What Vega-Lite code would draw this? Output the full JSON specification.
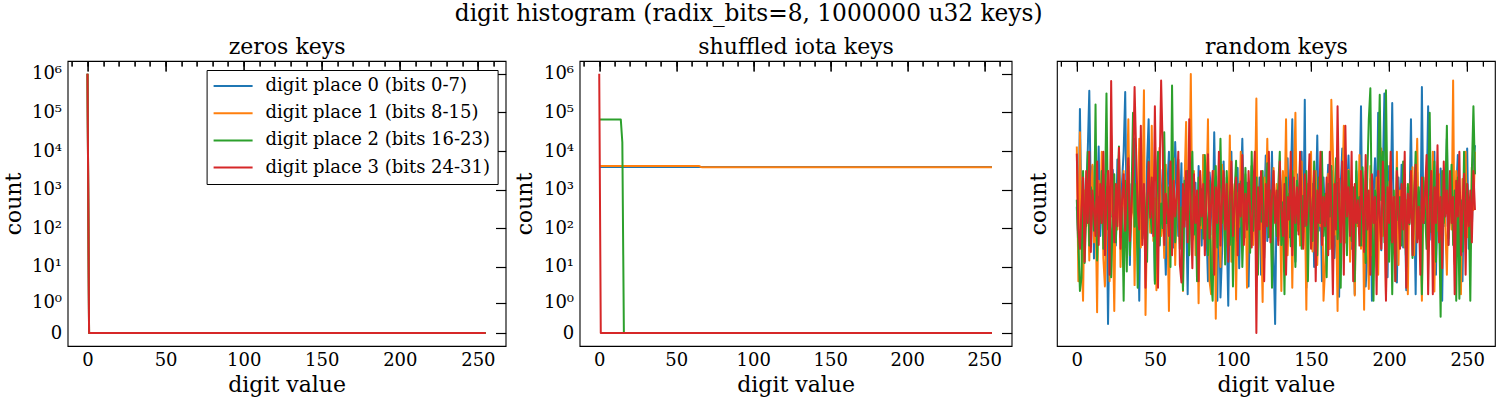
{
  "$schema": "https://vega.github.io/schema/vega-lite/v6.json",
  "padding": {"left": 1.6, "top": 1, "right": 0, "bottom": 0},
  "title": {"text": "digit histogram (radix_bits=8, 1000000 u32 keys)", "fontSize": 23.3, "offset": 8.2, "anchor": "middle", "frame": "bounds"},
  "datasets": {
    "zeros": [
      {"digit": 0, "place": "digit place 0 (bits 0-7)", "count": 1000000},
      {"digit": 1, "place": "digit place 0 (bits 0-7)", "count": 0},
      {"digit": 255, "place": "digit place 0 (bits 0-7)", "count": 0},
      {"digit": 0, "place": "digit place 1 (bits 8-15)", "count": 1000000},
      {"digit": 1, "place": "digit place 1 (bits 8-15)", "count": 0},
      {"digit": 255, "place": "digit place 1 (bits 8-15)", "count": 0},
      {"digit": 0, "place": "digit place 2 (bits 16-23)", "count": 1000000},
      {"digit": 1, "place": "digit place 2 (bits 16-23)", "count": 0},
      {"digit": 255, "place": "digit place 2 (bits 16-23)", "count": 0},
      {"digit": 0, "place": "digit place 3 (bits 24-31)", "count": 1000000},
      {"digit": 1, "place": "digit place 3 (bits 24-31)", "count": 0},
      {"digit": 255, "place": "digit place 3 (bits 24-31)", "count": 0}
    ],
    "iota": [
      {"digit": 0, "place": "digit place 0 (bits 0-7)", "count": 3907},
      {"digit": 63, "place": "digit place 0 (bits 0-7)", "count": 3907},
      {"digit": 64, "place": "digit place 0 (bits 0-7)", "count": 3906},
      {"digit": 255, "place": "digit place 0 (bits 0-7)", "count": 3906},
      {"digit": 0, "place": "digit place 1 (bits 8-15)", "count": 4096},
      {"digit": 65, "place": "digit place 1 (bits 8-15)", "count": 4096},
      {"digit": 66, "place": "digit place 1 (bits 8-15)", "count": 3904},
      {"digit": 67, "place": "digit place 1 (bits 8-15)", "count": 3840},
      {"digit": 255, "place": "digit place 1 (bits 8-15)", "count": 3840},
      {"digit": 0, "place": "digit place 2 (bits 16-23)", "count": 65536},
      {"digit": 14, "place": "digit place 2 (bits 16-23)", "count": 65536},
      {"digit": 15, "place": "digit place 2 (bits 16-23)", "count": 16960},
      {"digit": 16, "place": "digit place 2 (bits 16-23)", "count": 0},
      {"digit": 255, "place": "digit place 2 (bits 16-23)", "count": 0},
      {"digit": 0, "place": "digit place 3 (bits 24-31)", "count": 1000000},
      {"digit": 1, "place": "digit place 3 (bits 24-31)", "count": 0},
      {"digit": 255, "place": "digit place 3 (bits 24-31)", "count": 0}
    ],
    "random": [
      {"d":0,"p0":3905,"p1":3998,"p2":3916,"p3":3987},
      {"d":1,"p0":3840,"p1":3790,"p2":3850,"p3":3870},
      {"d":2,"p0":4056,"p1":4020,"p2":3775,"p3":3840},
      {"d":3,"p0":3880,"p1":3840,"p2":3795,"p3":3905},
      {"d":4,"p0":3950,"p1":3760,"p2":3960,"p3":3950},
      {"d":5,"p0":3870,"p1":3930,"p2":3818,"p3":3820},
      {"d":6,"p0":3930,"p1":3875,"p2":3890,"p3":3960},
      {"d":7,"p0":3990,"p1":3960,"p2":3990,"p3":3880},
      {"d":8,"p0":4084,"p1":3822,"p2":3845,"p3":3990},
      {"d":9,"p0":3912,"p1":3905,"p2":3935,"p3":3835},
      {"d":10,"p0":3968,"p1":3970,"p2":3905,"p3":3930},
      {"d":11,"p0":3825,"p1":3850,"p2":3868,"p3":3900},
      {"d":12,"p0":3940,"p1":3912,"p2":4063,"p3":3860},
      {"d":13,"p0":3885,"p1":3742,"p2":3822,"p3":3975},
      {"d":14,"p0":3998,"p1":3945,"p2":3920,"p3":3846},
      {"d":15,"p0":3860,"p1":3886,"p2":3880,"p3":3940},
      {"d":16,"p0":3920,"p1":3990,"p2":3960,"p3":3880},
      {"d":17,"p0":3955,"p1":3826,"p2":3840,"p3":3990},
      {"d":18,"p0":3876,"p1":3782,"p2":3912,"p3":3830},
      {"d":19,"p0":3935,"p1":3868,"p2":4080,"p3":3920},
      {"d":20,"p0":3724,"p1":3960,"p2":3870,"p3":3960},
      {"d":21,"p0":3890,"p1":3790,"p2":3935,"p3":3800},
      {"d":22,"p0":3890,"p1":4015,"p2":3796,"p3":4099},
      {"d":23,"p0":3962,"p1":3880,"p2":3890,"p3":3900},
      {"d":24,"p0":3918,"p1":3744,"p2":3955,"p3":3850},
      {"d":25,"p0":3845,"p1":3938,"p2":3850,"p3":3940},
      {"d":26,"p0":3978,"p1":3870,"p2":3920,"p3":3875},
      {"d":27,"p0":3902,"p1":3985,"p2":3998,"p3":3996},
      {"d":28,"p0":3866,"p1":3812,"p2":3858,"p3":3840},
      {"d":29,"p0":3944,"p1":3900,"p2":3904,"p3":3915},
      {"d":30,"p0":3990,"p1":3960,"p2":3760,"p3":3955},
      {"d":31,"p0":4082,"p1":3844,"p2":3945,"p3":3868},
      {"d":32,"p0":3870,"p1":3920,"p2":3805,"p3":3930},
      {"d":33,"p0":3985,"p1":4040,"p2":3968,"p3":3980},
      {"d":34,"p0":3815,"p1":3860,"p2":3830,"p3":3852},
      {"d":35,"p0":3940,"p1":3895,"p2":3915,"p3":3905},
      {"d":36,"p0":3896,"p1":3968,"p2":4050,"p3":3960},
      {"d":37,"p0":4010,"p1":3784,"p2":3874,"p3":4090},
      {"d":38,"p0":3852,"p1":3930,"p2":3940,"p3":3990},
      {"d":39,"p0":3925,"p1":3876,"p2":3780,"p3":3900},
      {"d":40,"p0":3760,"p1":4010,"p2":3905,"p3":3870},
      {"d":41,"p0":3958,"p1":3842,"p2":3962,"p3":4030},
      {"d":42,"p0":3880,"p1":3915,"p2":3856,"p3":3846},
      {"d":43,"p0":3910,"p1":4085,"p2":3930,"p3":3940},
      {"d":44,"p0":3832,"p1":3738,"p2":3890,"p3":3780},
      {"d":45,"p0":3972,"p1":3890,"p2":3820,"p3":3915},
      {"d":46,"p0":4040,"p1":3950,"p2":3975,"p3":3974},
      {"d":47,"p0":3898,"p1":3865,"p2":3898,"p3":3888},
      {"d":48,"p0":3864,"p1":4030,"p2":3866,"p3":3950},
      {"d":49,"p0":3945,"p1":3852,"p2":3944,"p3":3860},
      {"d":50,"p0":3790,"p1":3918,"p2":3786,"p3":4060},
      {"d":51,"p0":3920,"p1":3776,"p2":3920,"p3":3905},
      {"d":52,"p0":3985,"p1":3940,"p2":3990,"p3":3780},
      {"d":53,"p0":3845,"p1":3996,"p2":3846,"p3":3950},
      {"d":54,"p0":3906,"p1":3860,"p2":3910,"p3":4100},
      {"d":55,"p0":3962,"p1":3905,"p2":3872,"p3":3996},
      {"d":56,"p0":3878,"p1":3826,"p2":4020,"p3":3846},
      {"d":57,"p0":3800,"p1":3970,"p2":3880,"p3":3925},
      {"d":58,"p0":3934,"p1":3888,"p2":3880,"p3":3900},
      {"d":59,"p0":3990,"p1":3744,"p2":3935,"p3":3860},
      {"d":60,"p0":3868,"p1":3935,"p2":3812,"p3":3975},
      {"d":61,"p0":3915,"p1":3875,"p2":4092,"p3":3830},
      {"d":62,"p0":3842,"p1":3980,"p2":3895,"p3":3945},
      {"d":63,"p0":4005,"p1":3815,"p2":3850,"p3":3890},
      {"d":64,"p0":3935,"p1":3910,"p2":3925,"p3":3920},
      {"d":65,"p0":3860,"p1":3962,"p2":3978,"p3":3990},
      {"d":66,"p0":3890,"p1":3848,"p2":3840,"p3":3816},
      {"d":67,"p0":3972,"p1":3896,"p2":3904,"p3":3788},
      {"d":68,"p0":3816,"p1":3775,"p2":3776,"p3":3940},
      {"d":69,"p0":3950,"p1":3940,"p2":3945,"p3":3874},
      {"d":70,"p0":3905,"p1":4036,"p2":3885,"p3":3960},
      {"d":71,"p0":3770,"p1":3870,"p2":3960,"p3":3850},
      {"d":72,"p0":3928,"p1":3920,"p2":3830,"p3":4040},
      {"d":73,"p0":3990,"p1":4110,"p2":3915,"p3":3900},
      {"d":74,"p0":3854,"p1":3880,"p2":3990,"p3":3810},
      {"d":75,"p0":3880,"p1":3960,"p2":3862,"p3":3955},
      {"d":76,"p0":3942,"p1":3830,"p2":3920,"p3":3880},
      {"d":77,"p0":3826,"p1":3915,"p2":3790,"p3":3930},
      {"d":78,"p0":3968,"p1":3756,"p2":3950,"p3":3790},
      {"d":79,"p0":3900,"p1":3938,"p2":3876,"p3":3960},
      {"d":80,"p0":3845,"p1":3872,"p2":3932,"p3":3890},
      {"d":81,"p0":3985,"p1":3985,"p2":3856,"p3":3940},
      {"d":82,"p0":3912,"p1":3846,"p2":3985,"p3":3830},
      {"d":83,"p0":3874,"p1":3908,"p2":3900,"p3":3920},
      {"d":84,"p0":3790,"p1":4040,"p2":3830,"p3":3986},
      {"d":85,"p0":3958,"p1":3790,"p2":3945,"p3":3856},
      {"d":86,"p0":3930,"p1":3770,"p2":3795,"p3":3910},
      {"d":87,"p0":3862,"p1":3866,"p2":3760,"p3":3960},
      {"d":88,"p0":4020,"p1":3960,"p2":3920,"p3":3800},
      {"d":89,"p0":3886,"p1":3732,"p2":3968,"p3":3935},
      {"d":90,"p0":3760,"p1":3930,"p2":3842,"p3":3880},
      {"d":91,"p0":3946,"p1":3884,"p2":3905,"p3":3990},
      {"d":92,"p0":3765,"p1":3812,"p2":4010,"p3":3845},
      {"d":93,"p0":3834,"p1":3970,"p2":3880,"p3":3915},
      {"d":94,"p0":3975,"p1":3900,"p2":3938,"p3":3960},
      {"d":95,"p0":3898,"p1":3845,"p2":3816,"p3":3870},
      {"d":96,"p0":3870,"p1":3950,"p2":3960,"p3":3940},
      {"d":97,"p0":3752,"p1":3880,"p2":3890,"p3":3820},
      {"d":98,"p0":3940,"p1":4015,"p2":3846,"p3":3920},
      {"d":99,"p0":3990,"p1":3820,"p2":3930,"p3":3975},
      {"d":100,"p0":3846,"p1":3905,"p2":3782,"p3":3860},
      {"d":101,"p0":3915,"p1":3940,"p2":3925,"p3":3905},
      {"d":102,"p0":3880,"p1":3762,"p2":3976,"p3":3950},
      {"d":103,"p0":3965,"p1":3926,"p2":3852,"p3":3830},
      {"d":104,"p0":3810,"p1":3874,"p2":3905,"p3":3940},
      {"d":105,"p0":3928,"p1":3990,"p2":3944,"p3":3890},
      {"d":106,"p0":4010,"p1":3850,"p2":3812,"p3":3985},
      {"d":107,"p0":3890,"p1":3915,"p2":3890,"p3":3846},
      {"d":108,"p0":3858,"p1":3955,"p2":3965,"p3":3925},
      {"d":109,"p0":3942,"p1":3780,"p2":3870,"p3":3870},
      {"d":110,"p0":3782,"p1":3930,"p2":3920,"p3":3960},
      {"d":111,"p0":3906,"p1":3870,"p2":3834,"p3":3900},
      {"d":112,"p0":3968,"p1":3968,"p2":3990,"p3":3842},
      {"d":113,"p0":3874,"p1":3846,"p2":3868,"p3":3930},
      {"d":114,"p0":3920,"p1":3910,"p2":3915,"p3":3990},
      {"d":115,"p0":3838,"p1":4072,"p2":3950,"p3":3710},
      {"d":116,"p0":3885,"p1":3835,"p2":3800,"p3":3935},
      {"d":117,"p0":3950,"p1":3930,"p2":3935,"p3":3870},
      {"d":118,"p0":3800,"p1":3880,"p2":3882,"p3":3960},
      {"d":119,"p0":3930,"p1":3758,"p2":3960,"p3":3896},
      {"d":120,"p0":3896,"p1":3950,"p2":3826,"p3":3790},
      {"d":121,"p0":3984,"p1":3890,"p2":3910,"p3":3940},
      {"d":122,"p0":3852,"p1":4010,"p2":3972,"p3":3875},
      {"d":123,"p0":3915,"p1":3860,"p2":3858,"p3":3990},
      {"d":124,"p0":3876,"p1":3925,"p2":3930,"p3":3850},
      {"d":125,"p0":3990,"p1":3810,"p2":3780,"p3":3920},
      {"d":126,"p0":3830,"p1":3965,"p2":3944,"p3":3960},
      {"d":127,"p0":3724,"p1":3885,"p2":3890,"p3":3880},
      {"d":128,"p0":3925,"p1":3940,"p2":3860,"p3":3930},
      {"d":129,"p0":3890,"p1":3852,"p2":3935,"p3":3846},
      {"d":130,"p0":3962,"p1":3920,"p2":3990,"p3":3975},
      {"d":131,"p0":3870,"p1":3775,"p2":3846,"p3":3900},
      {"d":132,"p0":3946,"p1":3960,"p2":3912,"p3":3860},
      {"d":133,"p0":3805,"p1":3895,"p2":3770,"p3":3940},
      {"d":134,"p0":3912,"p1":4040,"p2":3950,"p3":3800},
      {"d":135,"p0":3980,"p1":3830,"p2":3886,"p3":3920},
      {"d":136,"p0":3858,"p1":3915,"p2":3925,"p3":3885},
      {"d":137,"p0":3935,"p1":3962,"p2":3844,"p3":3990},
      {"d":138,"p0":4040,"p1":3780,"p2":3960,"p3":3830},
      {"d":139,"p0":3882,"p1":3935,"p2":3900,"p3":3950},
      {"d":140,"p0":3820,"p1":4050,"p2":3812,"p3":3880},
      {"d":141,"p0":3955,"p1":3868,"p2":3945,"p3":3935},
      {"d":142,"p0":3900,"p1":3905,"p2":3878,"p3":3862},
      {"d":143,"p0":3872,"p1":3845,"p2":3985,"p3":3990},
      {"d":144,"p0":3990,"p1":3975,"p2":3840,"p3":3900},
      {"d":145,"p0":3845,"p1":3866,"p2":3922,"p3":3840},
      {"d":146,"p0":4070,"p1":3920,"p2":3875,"p3":3955},
      {"d":147,"p0":3780,"p1":3746,"p2":3960,"p3":3876},
      {"d":148,"p0":3910,"p1":3940,"p2":3790,"p3":3920},
      {"d":149,"p0":3965,"p1":3894,"p2":3935,"p3":3986},
      {"d":150,"p0":3862,"p1":3990,"p2":3900,"p3":3840},
      {"d":151,"p0":3940,"p1":3836,"p2":3852,"p3":3905},
      {"d":152,"p0":3812,"p1":3910,"p2":3975,"p3":3960},
      {"d":153,"p0":3895,"p1":3960,"p2":3915,"p3":3790},
      {"d":154,"p0":4015,"p1":3815,"p2":3830,"p3":3930},
      {"d":155,"p0":3868,"p1":3932,"p2":3950,"p3":3880},
      {"d":156,"p0":3932,"p1":3875,"p2":3880,"p3":3990},
      {"d":157,"p0":3790,"p1":3975,"p2":3990,"p3":3846},
      {"d":158,"p0":3950,"p1":3760,"p2":3860,"p3":3920},
      {"d":159,"p0":3886,"p1":3810,"p2":3925,"p3":3875},
      {"d":160,"p0":3914,"p1":3880,"p2":3796,"p3":3950},
      {"d":161,"p0":3970,"p1":3956,"p2":3940,"p3":3830},
      {"d":162,"p0":3840,"p1":3840,"p2":3890,"p3":3990},
      {"d":163,"p0":3905,"p1":4070,"p2":3968,"p3":3900},
      {"d":164,"p0":3960,"p1":3990,"p2":3840,"p3":3770},
      {"d":165,"p0":3826,"p1":3862,"p2":3910,"p3":3940},
      {"d":166,"p0":3880,"p1":3905,"p2":3980,"p3":3870},
      {"d":167,"p0":3942,"p1":3744,"p2":3855,"p3":4060},
      {"d":168,"p0":3766,"p1":3948,"p2":3925,"p3":3905},
      {"d":169,"p0":3936,"p1":3874,"p2":3780,"p3":3850},
      {"d":170,"p0":3995,"p1":3915,"p2":3946,"p3":3975},
      {"d":171,"p0":3874,"p1":4030,"p2":3886,"p3":3800},
      {"d":172,"p0":3850,"p1":3850,"p2":3915,"p3":4030},
      {"d":173,"p0":3920,"p1":3900,"p2":3830,"p3":3890},
      {"d":174,"p0":3984,"p1":3962,"p2":3960,"p3":3935},
      {"d":175,"p0":3895,"p1":3820,"p2":3900,"p3":3860},
      {"d":176,"p0":3840,"p1":3930,"p2":3852,"p3":3990},
      {"d":177,"p0":3925,"p1":3890,"p2":3935,"p3":3790},
      {"d":178,"p0":3770,"p1":3768,"p2":3790,"p3":3940},
      {"d":179,"p0":3960,"p1":3945,"p2":3975,"p3":3880},
      {"d":180,"p0":3886,"p1":3875,"p2":3880,"p3":3915},
      {"d":181,"p0":3912,"p1":3985,"p2":3920,"p3":3845},
      {"d":182,"p0":4060,"p1":3840,"p2":3845,"p3":3960},
      {"d":183,"p0":3845,"p1":3920,"p2":3966,"p3":3900},
      {"d":184,"p0":3904,"p1":3746,"p2":3900,"p3":3835},
      {"d":185,"p0":3782,"p1":3960,"p2":3818,"p3":3985},
      {"d":186,"p0":3830,"p1":3886,"p2":3950,"p3":3870},
      {"d":187,"p0":3890,"p1":3778,"p2":4040,"p3":3930},
      {"d":188,"p0":3948,"p1":3968,"p2":4088,"p3":3800},
      {"d":189,"p0":3760,"p1":3830,"p2":3870,"p3":3955},
      {"d":190,"p0":3926,"p1":3905,"p2":3760,"p3":3880},
      {"d":191,"p0":3980,"p1":3870,"p2":3930,"p3":3920},
      {"d":192,"p0":3872,"p1":3950,"p2":3885,"p3":3770},
      {"d":193,"p0":4050,"p1":3800,"p2":3960,"p3":3960},
      {"d":194,"p0":3910,"p1":3928,"p2":4078,"p3":3890},
      {"d":195,"p0":3838,"p1":3995,"p2":3915,"p3":3840},
      {"d":196,"p0":3955,"p1":3860,"p2":3990,"p3":3975},
      {"d":197,"p0":4080,"p1":3912,"p2":3850,"p3":3905},
      {"d":198,"p0":3930,"p1":3766,"p2":4085,"p3":3760},
      {"d":199,"p0":3796,"p1":3944,"p2":3905,"p3":3935},
      {"d":200,"p0":3968,"p1":3880,"p2":3820,"p3":3880},
      {"d":201,"p0":3902,"p1":3974,"p2":3950,"p3":3990},
      {"d":202,"p0":4065,"p1":3846,"p2":3770,"p3":3850},
      {"d":203,"p0":3864,"p1":3920,"p2":3930,"p3":3920},
      {"d":204,"p0":3920,"p1":3860,"p2":3790,"p3":3790},
      {"d":205,"p0":3788,"p1":3990,"p2":3965,"p3":3960},
      {"d":206,"p0":3950,"p1":3815,"p2":3884,"p3":3900},
      {"d":207,"p0":3884,"p1":3930,"p2":3920,"p3":3840},
      {"d":208,"p0":3970,"p1":3876,"p2":3845,"p3":3940},
      {"d":209,"p0":3842,"p1":3955,"p2":3975,"p3":3870},
      {"d":210,"p0":3918,"p1":3842,"p2":3900,"p3":3990},
      {"d":211,"p0":3776,"p1":3915,"p2":3812,"p3":3780},
      {"d":212,"p0":3935,"p1":3770,"p2":3940,"p3":3925},
      {"d":213,"p0":3896,"p1":3940,"p2":3878,"p3":3880},
      {"d":214,"p0":4040,"p1":3888,"p2":3960,"p3":3960},
      {"d":215,"p0":3860,"p1":3966,"p2":3826,"p3":3830},
      {"d":216,"p0":3928,"p1":3830,"p2":3915,"p3":3915},
      {"d":217,"p0":3770,"p1":3925,"p2":3990,"p3":3970},
      {"d":218,"p0":3958,"p1":4010,"p2":3856,"p3":3850},
      {"d":219,"p0":3890,"p1":3856,"p2":3935,"p3":3905},
      {"d":220,"p0":3846,"p1":3900,"p2":3884,"p3":3800},
      {"d":221,"p0":4090,"p1":3760,"p2":3770,"p3":3950},
      {"d":222,"p0":3880,"p1":3945,"p2":3950,"p3":3880},
      {"d":223,"p0":3880,"p1":3884,"p2":3900,"p3":3925},
      {"d":224,"p0":3912,"p1":3960,"p2":3840,"p3":3985},
      {"d":225,"p0":4060,"p1":3836,"p2":3930,"p3":3770},
      {"d":226,"p0":3854,"p1":3920,"p2":4050,"p3":3905},
      {"d":227,"p0":3936,"p1":3882,"p2":3866,"p3":3960},
      {"d":228,"p0":3866,"p1":3990,"p2":3912,"p3":3770},
      {"d":229,"p0":3990,"p1":3774,"p2":3975,"p3":3935},
      {"d":230,"p0":3800,"p1":3932,"p2":3820,"p3":3880},
      {"d":231,"p0":3925,"p1":3868,"p2":3945,"p3":4000},
      {"d":232,"p0":3880,"p1":3955,"p2":3890,"p3":3850},
      {"d":233,"p0":3964,"p1":3820,"p2":3735,"p3":3920},
      {"d":234,"p0":3760,"p1":3910,"p2":3960,"p3":3810},
      {"d":235,"p0":3942,"p1":3946,"p2":3880,"p3":3975},
      {"d":236,"p0":3875,"p1":3876,"p2":3920,"p3":3890},
      {"d":237,"p0":4010,"p1":3800,"p2":4030,"p3":3930},
      {"d":238,"p0":3846,"p1":3925,"p2":3856,"p3":3846},
      {"d":239,"p0":3905,"p1":3925,"p2":3905,"p3":3960},
      {"d":240,"p0":3950,"p1":3870,"p2":3970,"p3":3880},
      {"d":241,"p0":3868,"p1":4100,"p2":3846,"p3":3920},
      {"d":242,"p0":3820,"p1":3816,"p2":3930,"p3":3770},
      {"d":243,"p0":3930,"p1":3960,"p2":3760,"p3":3945},
      {"d":244,"p0":3985,"p1":3890,"p2":3950,"p3":3890},
      {"d":245,"p0":3860,"p1":3905,"p2":3763,"p3":3990},
      {"d":246,"p0":3905,"p1":3770,"p2":3915,"p3":3830},
      {"d":247,"p0":3790,"p1":3948,"p2":3836,"p3":3910},
      {"d":248,"p0":3948,"p1":3880,"p2":3990,"p3":3956},
      {"d":249,"p0":3876,"p1":3990,"p2":3870,"p3":3800},
      {"d":250,"p0":3995,"p1":3858,"p2":3940,"p3":3940},
      {"d":251,"p0":3840,"p1":3915,"p2":3905,"p3":3875},
      {"d":252,"p0":3918,"p1":3840,"p2":3760,"p3":3930},
      {"d":253,"p0":3870,"p1":3966,"p2":3960,"p3":3850},
      {"d":254,"p0":3965,"p1":3900,"p2":4060,"p3":3960},
      {"d":255,"p0":4000,"p1":3990,"p2":3955,"p3":3900}
    ]
  },
  "hconcat": [
    {
      "width": 438,
      "height": 285,
      "data": {"name": "zeros"},
      "layer": [
        {
          "mark": {"type": "line", "strokeWidth": 2, "strokeJoin": "round"},
          "encoding": {
            "x": {"field": "digit", "type": "quantitative", "scale": {"domain": [-12.75, 267.75], "nice": false, "zero": false},
                  "axis": {"values": [0, 50, 100, 150, 200, 250], "ticks": false, "labelPadding": 6, "title": "digit value", "titleY": 45.7, "titleBaseline": "alphabetic"}},
            "y": {"field": "count", "type": "quantitative", "scale": {"type": "symlog", "constant": 0.2, "domain": [-0.2332, 2126800], "nice": false, "zero": false},
                  "axis": {"values": [0, 1, 10, 100, 1000, 10000, 100000, 1000000], "ticks": false, "labelPadding": 6, "labelExpr": "datum.value == 0 ? '0' : '10' + ['⁰','¹','²','³','⁴','⁵','⁶'][round(log(datum.value) / LN10)]", "title": "count", "titleX": -47.3, "titleBaseline": "alphabetic"}},
            "color": {"field": "place", "type": "nominal",
                      "scale": {"domain": ["digit place 0 (bits 0-7)", "digit place 1 (bits 8-15)", "digit place 2 (bits 16-23)", "digit place 3 (bits 24-31)"], "range": ["#1f77b4", "#ff7f0e", "#2ca02c", "#d62728"]},
                      "legend": {"orient": "none", "legendX": 139, "legendY": 9, "title": null, "symbolType": "M-1.8,0H6", "symbolSize": 100, "symbolStrokeWidth": 2, "labelOffset": 34, "rowPadding": 9.2, "padding": 7, "strokeColor": "black", "fillColor": "white", "cornerRadius": 0, "labelLimit": 400}}
          }
        },
        {
          "mark": {"type": "line", "opacity": 0},
          "encoding": {
            "x": {"field": "digit", "type": "quantitative", "scale": {"domain": [-12.75, 267.75], "nice": false, "zero": false},
                  "axis": {"values": [0, 50, 100, 150, 200, 250], "tickSize": -10, "labels": false, "title": null}},
            "y": {"field": "count", "type": "quantitative", "scale": {"type": "symlog", "constant": 0.2, "domain": [-0.2332, 2126800], "nice": false, "zero": false},
                  "axis": {"values": [0, 1, 10, 100, 1000, 10000, 100000, 1000000], "tickSize": -10, "labels": false, "title": null}}
          }
        },
        {
          "mark": {"type": "line", "opacity": 0},
          "encoding": {
            "x": {"field": "digit", "type": "quantitative", "scale": {"domain": [-12.75, 267.75], "nice": false, "zero": false},
                  "axis": {"values": [-10, 0, 10, 20, 30, 40, 50, 60, 70, 80, 90, 100, 110, 120, 130, 140, 150, 160, 170, 180, 190, 200, 210, 220, 230, 240, 250, 260], "tickSize": -5, "labels": false, "title": null}},
            "y": {"field": "count", "type": "quantitative", "scale": {"type": "symlog", "constant": 0.2, "domain": [-0.2332, 2126800], "nice": false, "zero": false},
                  "axis": {"orient": "right", "values": [0, 1, 10, 100, 1000, 10000, 100000, 1000000], "tickSize": -10, "labels": false, "title": null}}
          }
        },
        {
          "mark": {"type": "line", "opacity": 0},
          "encoding": {
            "x": {"field": "digit", "type": "quantitative", "scale": {"domain": [-12.75, 267.75], "nice": false, "zero": false},
                  "axis": {"orient": "top", "values": [0, 50, 100, 150, 200, 250], "tickSize": -10, "labels": false, "title": "zeros keys", "titleY": -8, "titleBaseline": "alphabetic"}},
            "y": {"field": "count", "type": "quantitative", "scale": {"type": "symlog", "constant": 0.2, "domain": [-0.2332, 2126800], "nice": false, "zero": false}, "axis": null}
          }
        },
        {
          "mark": {"type": "line", "opacity": 0},
          "encoding": {
            "x": {"field": "digit", "type": "quantitative", "scale": {"domain": [-12.75, 267.75], "nice": false, "zero": false},
                  "axis": {"orient": "top", "values": [-10, 0, 10, 20, 30, 40, 50, 60, 70, 80, 90, 100, 110, 120, 130, 140, 150, 160, 170, 180, 190, 200, 210, 220, 230, 240, 250, 260], "tickSize": -5, "labels": false, "title": null}},
            "y": {"field": "count", "type": "quantitative", "scale": {"type": "symlog", "constant": 0.2, "domain": [-0.2332, 2126800], "nice": false, "zero": false}, "axis": null}
          }
        }
      ],
      "resolve": {"axis": {"x": "independent", "y": "independent"}}
    },
    {
      "hconcat": [
        {
          "width": 432,
          "height": 285,
          "data": {"name": "iota"},
          "layer": [
            {
              "mark": {"type": "line", "strokeWidth": 2, "strokeJoin": "round"},
              "encoding": {
                "x": {"field": "digit", "type": "quantitative", "scale": {"domain": [-12.75, 267.75], "nice": false, "zero": false},
                      "axis": {"values": [0, 50, 100, 150, 200, 250], "ticks": false, "labelPadding": 6, "title": "digit value", "titleY": 45.7, "titleBaseline": "alphabetic"}},
                "y": {"field": "count", "type": "quantitative", "scale": {"type": "symlog", "constant": 0.2, "domain": [-0.2332, 2126800], "nice": false, "zero": false},
                      "axis": {"values": [0, 1, 10, 100, 1000, 10000, 100000, 1000000], "ticks": false, "labelPadding": 6, "labelExpr": "datum.value == 0 ? '0' : '10' + ['⁰','¹','²','³','⁴','⁵','⁶'][round(log(datum.value) / LN10)]", "title": "count", "titleX": -47.8, "titleBaseline": "alphabetic"}},
                "color": {"field": "place", "type": "nominal",
                          "scale": {"domain": ["digit place 0 (bits 0-7)", "digit place 1 (bits 8-15)", "digit place 2 (bits 16-23)", "digit place 3 (bits 24-31)"], "range": ["#1f77b4", "#ff7f0e", "#2ca02c", "#d62728"]},
                          "legend": null}
              }
            },
            {
              "mark": {"type": "line", "opacity": 0},
              "encoding": {
                "x": {"field": "digit", "type": "quantitative", "scale": {"domain": [-12.75, 267.75], "nice": false, "zero": false},
                      "axis": {"values": [0, 50, 100, 150, 200, 250], "tickSize": -10, "labels": false, "title": null}},
                "y": {"field": "count", "type": "quantitative", "scale": {"type": "symlog", "constant": 0.2, "domain": [-0.2332, 2126800], "nice": false, "zero": false},
                      "axis": {"values": [0, 1, 10, 100, 1000, 10000, 100000, 1000000], "tickSize": -10, "labels": false, "title": null}}
              }
            },
            {
              "mark": {"type": "line", "opacity": 0},
              "encoding": {
                "x": {"field": "digit", "type": "quantitative", "scale": {"domain": [-12.75, 267.75], "nice": false, "zero": false},
                      "axis": {"values": [-10, 0, 10, 20, 30, 40, 50, 60, 70, 80, 90, 100, 110, 120, 130, 140, 150, 160, 170, 180, 190, 200, 210, 220, 230, 240, 250, 260], "tickSize": -5, "labels": false, "title": null}},
                "y": {"field": "count", "type": "quantitative", "scale": {"type": "symlog", "constant": 0.2, "domain": [-0.2332, 2126800], "nice": false, "zero": false},
                      "axis": {"orient": "right", "values": [0, 1, 10, 100, 1000, 10000, 100000, 1000000], "tickSize": -10, "labels": false, "title": null}}
              }
            },
            {
              "mark": {"type": "line", "opacity": 0},
              "encoding": {
                "x": {"field": "digit", "type": "quantitative", "scale": {"domain": [-12.75, 267.75], "nice": false, "zero": false},
                      "axis": {"orient": "top", "values": [0, 50, 100, 150, 200, 250], "tickSize": -10, "labels": false, "title": "shuffled iota keys", "titleY": -8, "titleBaseline": "alphabetic"}},
                "y": {"field": "count", "type": "quantitative", "scale": {"type": "symlog", "constant": 0.2, "domain": [-0.2332, 2126800], "nice": false, "zero": false}, "axis": null}
              }
            },
            {
              "mark": {"type": "line", "opacity": 0},
              "encoding": {
                "x": {"field": "digit", "type": "quantitative", "scale": {"domain": [-12.75, 267.75], "nice": false, "zero": false},
                      "axis": {"orient": "top", "values": [-10, 0, 10, 20, 30, 40, 50, 60, 70, 80, 90, 100, 110, 120, 130, 140, 150, 160, 170, 180, 190, 200, 210, 220, 230, 240, 250, 260], "tickSize": -5, "labels": false, "title": null}},
                "y": {"field": "count", "type": "quantitative", "scale": {"type": "symlog", "constant": 0.2, "domain": [-0.2332, 2126800], "nice": false, "zero": false}, "axis": null}
              }
            }
          ],
          "resolve": {"axis": {"x": "independent", "y": "independent"}}
        },
        {
          "width": 438,
          "height": 285,
          "data": {"name": "random"},
          "transform": [{"fold": ["p0", "p1", "p2", "p3"], "as": ["place", "count"]}],
          "layer": [
            {
              "mark": {"type": "line", "strokeWidth": 2, "strokeJoin": "round"},
              "encoding": {
                "x": {"field": "d", "type": "quantitative", "scale": {"domain": [-12.75, 267.75], "nice": false, "zero": false},
                      "axis": {"values": [0, 50, 100, 150, 200, 250], "ticks": false, "labelPadding": 6, "title": "digit value", "titleY": 45.7, "titleBaseline": "alphabetic"}},
                "y": {"field": "count", "type": "quantitative", "scale": {"domain": [3690, 4130], "nice": false, "zero": false},
                      "axis": {"values": [], "ticks": false, "labels": false, "title": "count", "titleX": -11.7, "titleBaseline": "alphabetic"}},
                "color": {"field": "place", "type": "nominal",
                          "scale": {"domain": ["p0", "p1", "p2", "p3"], "range": ["#1f77b4", "#ff7f0e", "#2ca02c", "#d62728"]},
                          "legend": null}
              }
            },
            {
              "mark": {"type": "line", "opacity": 0},
              "encoding": {
                "x": {"field": "d", "type": "quantitative", "scale": {"domain": [-12.75, 267.75], "nice": false, "zero": false},
                      "axis": {"values": [0, 50, 100, 150, 200, 250], "tickSize": -10, "labels": false, "title": null}},
                "y": {"field": "count", "type": "quantitative", "scale": {"domain": [3690, 4130], "nice": false, "zero": false}, "axis": null}
              }
            },
            {
              "mark": {"type": "line", "opacity": 0},
              "encoding": {
                "x": {"field": "d", "type": "quantitative", "scale": {"domain": [-12.75, 267.75], "nice": false, "zero": false},
                      "axis": {"values": [-10, 0, 10, 20, 30, 40, 50, 60, 70, 80, 90, 100, 110, 120, 130, 140, 150, 160, 170, 180, 190, 200, 210, 220, 230, 240, 250, 260], "tickSize": -5, "labels": false, "title": null}},
                "y": {"field": "count", "type": "quantitative", "scale": {"domain": [3690, 4130], "nice": false, "zero": false}, "axis": null}
              }
            },
            {
              "mark": {"type": "line", "opacity": 0},
              "encoding": {
                "x": {"field": "d", "type": "quantitative", "scale": {"domain": [-12.75, 267.75], "nice": false, "zero": false},
                      "axis": {"orient": "top", "values": [0, 50, 100, 150, 200, 250], "tickSize": -10, "labels": false, "title": "random keys", "titleY": -8, "titleBaseline": "alphabetic"}},
                "y": {"field": "count", "type": "quantitative", "scale": {"domain": [3690, 4130], "nice": false, "zero": false}, "axis": null}
              }
            },
            {
              "mark": {"type": "line", "opacity": 0},
              "encoding": {
                "x": {"field": "d", "type": "quantitative", "scale": {"domain": [-12.75, 267.75], "nice": false, "zero": false},
                      "axis": {"orient": "top", "values": [-10, 0, 10, 20, 30, 40, 50, 60, 70, 80, 90, 100, 110, 120, 130, 140, 150, 160, 170, 180, 190, 200, 210, 220, 230, 240, 250, 260], "tickSize": -5, "labels": false, "title": null}},
                "y": {"field": "count", "type": "quantitative", "scale": {"domain": [3690, 4130], "nice": false, "zero": false}, "axis": null}
              }
            }
          ],
          "resolve": {"axis": {"x": "independent", "y": "independent"}}
        }
      ],
      "spacing": 45.3,
      "bounds": "flush",
      "resolve": {"scale": {"color": "independent"}, "legend": {"color": "independent"}}
    }
  ],
  "spacing": 74,
  "bounds": "flush",
  "resolve": {"scale": {"color": "independent"}, "legend": {"color": "independent"}},
  "config": {
    "font": "DejaVu Serif",
    "view": {"stroke": "black", "strokeWidth": 1.1},
    "axis": {"labelFont": "DejaVu Serif", "labelFontSize": 18, "labelColor": "black", "titleFont": "DejaVu Serif", "titleFontSize": 22, "titleFontWeight": "normal", "titleColor": "black", "tickColor": "black", "tickWidth": 1.1, "domain": false, "grid": false, "labelFlush": false, "labelOverlap": false},
    "title": {"font": "DejaVu Serif", "fontSize": 22, "fontWeight": "normal", "color": "black"},
    "legend": {"labelFont": "DejaVu Serif", "labelFontSize": 18, "labelColor": "black"}
  }
}
